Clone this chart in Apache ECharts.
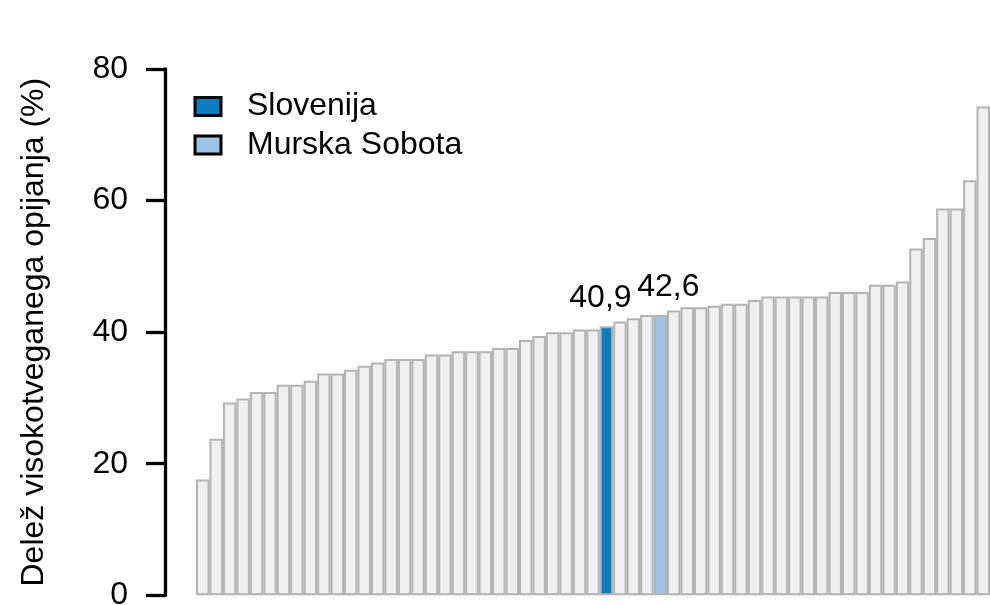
<!DOCTYPE html>
<html>
<head>
<meta charset="utf-8">
<script src="https://cdn.jsdelivr.net/npm/echarts@6/dist/echarts.min.js"></script>
<style>
html,body{margin:0;padding:0;background:#fff;}
#chart{width:990px;height:605px;}
</style>
</head>
<body>
<div id="chart"></div>
<script>
// ---- data ----
const categories = [
  'UE01','UE02','UE03','UE04','UE05','UE06','UE07','UE08','UE09','UE10',
  'UE11','UE12','UE13','UE14','UE15','UE16','UE17','UE18','UE19','UE20',
  'UE21','UE22','UE23','UE24','UE25','UE26','UE27','UE28','UE29','UE30',
  'Slovenija','UE32','UE33','UE34','Murska Sobota','UE36','UE37','UE38','UE39','UE40',
  'UE41','UE42','UE43','UE44','UE45','UE46','UE47','UE48','UE49','UE50',
  'UE51','UE52','UE53','UE54','UE55','UE56','UE57','UE58','UE59'
];
const values = [
  17.6, 23.8, 29.3, 29.9, 30.9, 30.9, 32.0, 32.0, 32.6, 33.7,
  33.7, 34.3, 34.9, 35.4, 35.9, 35.9, 35.9, 36.6, 36.6, 37.1,
  37.1, 37.1, 37.6, 37.6, 38.8, 39.4, 40.0, 40.0, 40.4, 40.4,
  40.9, 41.6, 42.1, 42.6, 42.6, 43.3, 43.8, 43.8, 44.0, 44.3,
  44.3, 44.9, 45.4, 45.4, 45.4, 45.4, 45.4, 46.1, 46.1, 46.1,
  47.2, 47.2, 47.7, 52.7, 54.3, 58.8, 58.8, 63.1, 74.3
];
const highlightSlovenija = 'Slovenija';
const highlightMS = 'Murska Sobota';
const yTicks = [0, 20, 40, 60, 80];
const yTitle = 'Delež visokotveganega opijanja (%)';

// ---- build series data ----
const idxSlo = categories.indexOf(highlightSlovenija);
const idxMS = categories.indexOf(highlightMS);
const baseData = values.map((v, i) => (i === idxSlo || i === idxMS) ? null : v);
const sloData = values.map((v, i) => i === idxSlo ? v : null);
const msData = values.map((v, i) => i === idxMS ? v : null);

const FONT = "'Liberation Sans', Arial, sans-serif";
const fmt = p => String(p.value.toFixed ? p.value.toFixed(1) : p.value).replace('.', ',');

const chart = echarts.init(document.getElementById('chart'), null, {renderer: 'canvas'});
chart.setOption({
  animation: false,
  backgroundColor: '#ffffff',
  textStyle: {fontFamily: FONT},
  grid: {left: 196, right: 0, top: 69, bottom: 9.7, containLabel: false, outerBoundsMode: 'none'},
  legend: {
    data: [highlightSlovenija, highlightMS],
    orient: 'vertical',
    left: 193.5,
    top: 90.5,
    padding: 0,
    itemGap: 6.5,
    itemWidth: 26,
    itemHeight: 18,
    icon: 'rect',
    selectedMode: false,
    itemStyle: {borderColor: '#000000', borderWidth: 3},
    textStyle: {fontSize: 32, color: '#000000', fontFamily: FONT, padding: [0, 0, 0, 21]}
  },
  xAxis: {
    type: 'category',
    data: categories,
    boundaryGap: true,
    axisLine: {show: false},
    axisTick: {show: false},
    axisLabel: {show: false},
    splitLine: {show: false}
  },
  yAxis: {
    type: 'value',
    min: yTicks[0],
    max: yTicks[yTicks.length - 1],
    interval: yTicks[1] - yTicks[0],
    offset: 31,
    name: yTitle,
    nameLocation: 'middle',
    nameRotate: 90,
    nameGap: 115,
    nameMoveOverlap: false,
    nameTextStyle: {fontSize: 32, color: '#000000', fontFamily: FONT},
    axisLine: {show: true, lineStyle: {color: '#000000', width: 3.3}},
    axisTick: {show: true, length: 19, lineStyle: {color: '#000000', width: 3.3}},
    axisLabel: {fontSize: 32, color: '#000000', margin: 37, fontFamily: FONT},
    splitLine: {show: false}
  },
  series: [
    {
      name: 'base',
      type: 'bar',
      stack: 'all',
      data: baseData,
      barCategoryGap: '0%',
      itemStyle: {color: '#F0F0F0', borderColor: '#B3B3B3', borderWidth: 2}
    },
    {
      name: highlightSlovenija,
      type: 'bar',
      stack: 'all',
      data: sloData,
      barCategoryGap: '0%',
      itemStyle: {color: '#0A7CC1', borderColor: '#B3B3B3', borderWidth: 2},
      label: {show: true, position: 'top', distance: 12, offset: [-6, 0], fontSize: 32, color: '#000000', fontFamily: FONT, formatter: fmt}
    },
    {
      name: highlightMS,
      type: 'bar',
      stack: 'all',
      data: msData,
      barCategoryGap: '0%',
      itemStyle: {color: '#9DC3E6', borderColor: '#B3B3B3', borderWidth: 2},
      label: {show: true, position: 'top', distance: 12, offset: [8, 0], fontSize: 32, color: '#000000', fontFamily: FONT, formatter: fmt}
    }
  ]
});
</script>
</body>
</html>
